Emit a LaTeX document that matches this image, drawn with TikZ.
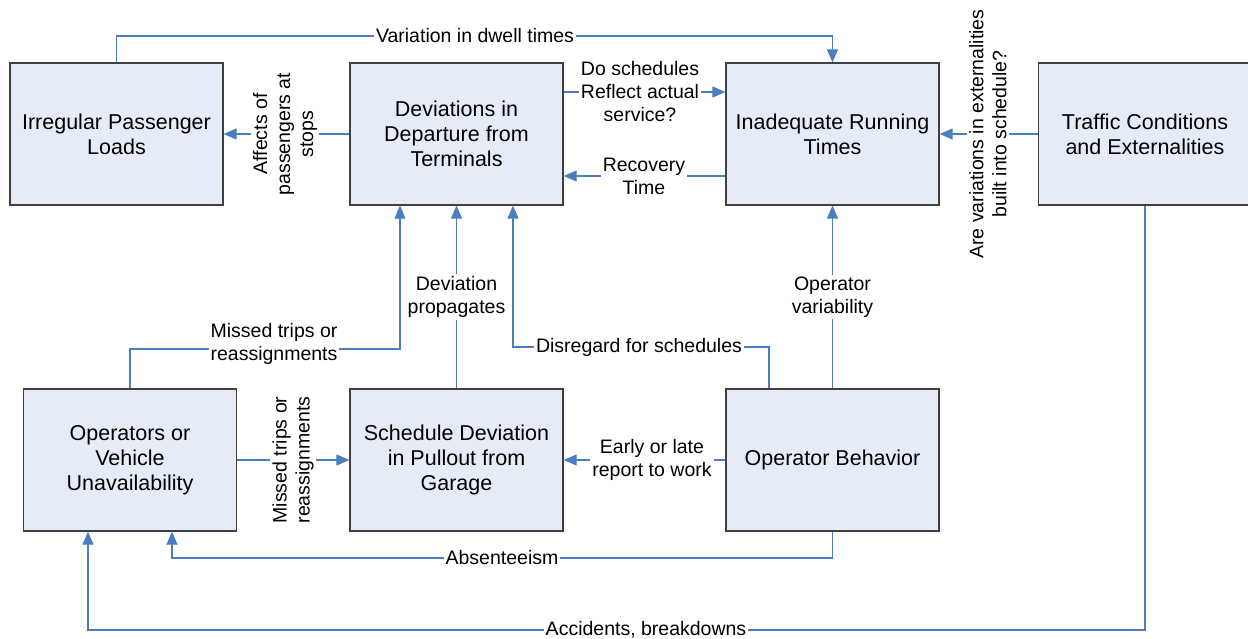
\documentclass[tikz,border=0pt]{standalone}
\usepackage{fontspec}
\setmainfont{Liberation Sans}
\usepackage{xcolor}
\usetikzlibrary{arrows.meta,
	calc,
	positioning}

\definecolor{boxfill}{RGB}{230,236,247}
\definecolor{boxline}{RGB}{64,64,64}
\definecolor{linkblue}{RGB}{74,126,193}

\begin{document}
\begin{tikzpicture}[
            x=1pt, y=-1pt,
            box/.style={
                    draw=boxline,
                    fill=boxfill,
                    line width=1.2pt,
                    minimum width=213pt,
                    minimum height=142pt,
                    align=center,
                    font=\fontsize{21.5}{25}\selectfont
                },
            link/.style={
                    draw=linkblue,
                    line width=1.1pt,
                    -{Triangle[length=13pt,width=11pt]}
                },
            note/.style={
                    fill=white,
                    inner sep=2pt,
                    align=center,
                    font=\fontsize{19.5}{23}\selectfont
                }
        ]
            \useasboundingbox (0,0) rectangle (1248,639);

            % boxes, upper row
            \node[box] (irr) at (116.5,134) {Irregular Passenger\\Loads};
            \node[box] (dev) at (456.5,134) {Deviations in\\Departure from\\Terminals};
            \node[box] (inad) at (832.5,134) {Inadequate Running\\Times};
            \node[box] (traf) at (1145,134) {Traffic Conditions\\and Externalities};

            % boxes, lower row
            \node[box] (ops) at (130,460) {Operators or\\Vehicle\\Unavailability};
            \node[box] (sched) at (456.5,460) {Schedule Deviation\\in Pullout from\\Garage};
            \node[box] (beh) at (832.5,460) {Operator Behavior};

            % lanes and side anchors for the routed lines
            \coordinate (topLane) at (0,36);
            \coordinate (missLane) at (0,349);
            \coordinate (disLane) at (0,347);
            \coordinate (absLane) at (0,558);
            \coordinate (accLane) at (0,630);
            \coordinate (opsA) at ([xshift=-42pt]ops.south);
            \coordinate (opsB) at ([xshift=42pt]ops.south);
            \coordinate (devA) at ([xshift=-56.5pt]dev.south);
            \coordinate (devC) at ([xshift=56.5pt]dev.south);
            \coordinate (behA) at ([xshift=-63.5pt]beh.north);

            \draw[link] (irr.north) |- (inad.north |- topLane) -- (inad.north);
            \draw[link] (dev.west) -- (irr.east);
            \draw[link] ([yshift=42pt]dev.east) -- ([yshift=42pt]inad.west);
            \draw[link] ([yshift=-42pt]inad.west) -- ([yshift=-42pt]dev.east);
            \draw[link] (traf.west) -- (inad.east);
            \draw[link] (traf.south) |- (opsA |- accLane) -- (opsA);
            \draw[link] (beh.south) |- (opsB |- absLane) -- (opsB);
            \draw[link] (ops.north) |- (devA |- missLane) -- (devA);
            \draw[link] (sched.north) -- (dev.south);
            \draw[link] (ops.east) -- (sched.west);
            \draw[link] (beh.west) -- (sched.east);
            \draw[link] (behA) |- (devC |- disLane) -- (devC);
            \draw[link] (beh.north) -- (inad.south);

            % labels sit on top of the lines
            \node[note] (dwellLbl) at (475,36) {Variation in dwell times};
            \node[note, rotate=90] (affLbl) at (285,134) {Affects of\\passengers at\\stops};
            \node[note] (reflLbl) at (640,92) {Do schedules\\Reflect actual\\service?};
            \node[note] (recLbl) at (644,176) {Recovery\\Time};
            \node[note, rotate=90] (extLbl) at (988,134) {Are variations in externalities\\built into schedule?};
            \node[note] (missLbl) at (274,344) {Missed trips or\\reassignments};
            \node[note, rotate=90] (missRotLbl) at (293,460) {Missed trips or\\reassignments};
            \node[note] (propLbl) at (456.5,297) {Deviation\\propagates};
            \node[note] (disLbl) at (639,347) {Disregard for schedules};
            \node[note] (varLbl) at (832.5,297) {Operator\\variability};
            \node[note] (earlyLbl) at (652,460) {Early or late\\report to work};
            \node[note] (absLbl) at (502,558) {Absenteeism};
            \node[note] (accLbl) at (646,630) {Accidents, breakdowns};
        \end{tikzpicture}
\end{document}
